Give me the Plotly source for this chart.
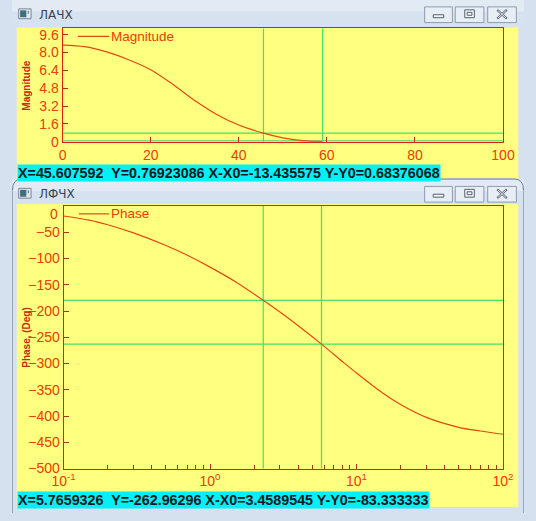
import plotly.graph_objects as go

W, H = 536, 521

# ---------------- data ----------------
MAG_NAME = "Magnitude"
MAG_X = [0, 5, 10, 15, 20, 25, 30, 35, 40, 45.6, 50, 55, 59]
MAG_Y = [8.66, 8.52, 8.05, 7.35, 6.45, 5.15, 3.7, 2.45, 1.5, 0.77, 0.35, 0.08, 0.03]
MAG_XTICKS = [0, 20, 40, 60, 80, 100]
MAG_YTICKS = [0, 1.6, 3.2, 4.8, 6.4, 8.0, 9.6]
MAG_YTICKTEXT = ["0", "1.6", "3.2", "4.8", "6.4", "8.0", "9.6"]
MAG_CURSOR_X, MAG_CURSOR_Y = 45.607592, 0.76923086
MAG_CURSOR_DX, MAG_CURSOR_DY = -13.435575, 0.68376068

PH_NAME = "Phase"
PH_F = [0.1, 0.15, 0.2, 0.3, 0.5, 0.7, 1.0, 1.5, 2.307, 3, 4, 5.766, 8, 10, 15, 20, 30, 50, 70, 100]
PH_DEG = [-19, -26.9, -35.7, -51.2, -75.2, -93.9, -116.4, -144.6, -179.6, -202, -228, -263,
          -296, -318, -355.6, -378, -402.6, -421.5, -428.5, -434.7]
PH_XTICKS = [0.1, 1, 10, 100]
PH_XTICKTEXT = ["10<sup>-1</sup>", "10<sup>0</sup>", "10<sup>1</sup>", "10<sup>2</sup>"]
PH_XMINOR = [m * d for d in (0.1, 1, 10) for m in range(2, 10)]
PH_YTICKS = [-50, -100, -150, -200, -250, -300, -350, -400, -450, -500]
PH_YTOP_LABEL = "0"
PH_CURSOR_X, PH_CURSOR_Y = 5.7659326, -262.96296
PH_CURSOR_DX, PH_CURSOR_DY = 3.4589545, -83.333333

WIN1_TITLE = "ЛАЧХ"
WIN2_TITLE = "ЛФЧХ"
MAG_YTITLE = "Magnitude"
PH_YTITLE = "Phase, (Deg)"

# ---------------- style ----------------
YELLOW = "#FFFF80"
CYAN = "#00F0F8"
CHROME = "#D5E1EF"
CURVE = "#E04A10"
AXIS = "#E0200A"
TICKTXT = "#E84000"
GREEN = "#48E060"
FONT = "Liberation Sans, Arial, sans-serif"


def px(x):
    return x / W


def py(y):
    return 1 - y / H


shapes = []
annotations = []


def rect(x0, y0, x1, y1, fill, line=None, lw=0, layer="below"):
    shapes.append(dict(type="rect", xref="paper", yref="paper",
                       x0=px(x0), x1=px(x1), y0=py(y1), y1=py(y0),
                       fillcolor=fill, line=dict(color=line or fill, width=lw),
                       layer=layer))


def seg(x0, y0, x1, y1, color, lw=1, layer="above"):
    shapes.append(dict(type="line", xref="paper", yref="paper",
                       x0=px(x0), x1=px(x1), y0=py(y0), y1=py(y1),
                       line=dict(color=color, width=lw), layer=layer))


def window(top, yellow_top, yellow_bottom, title):
    rect(0, top, W, top + 12, "#E2EAF4")
    rect(0, top + 12, W, yellow_top, "#D6E2EF")
    rect(5, yellow_top, 530, yellow_bottom, YELLOW)
    # icon
    rect(7, top + 9, 20, top + 19, "#E4E8EC", "#7A8896", 1, layer="above")
    rect(8.5, top + 10.5, 15, top + 17.5, "#3F6E7E", layer="above")
    seg(17, top + 11, 17, top + 14, "#3F6E7E", 1)
    annotations.append(dict(x=px(26), y=py(top + 15), xref="paper", yref="paper",
                            text=title, showarrow=False, xanchor="left", yanchor="middle",
                            font=dict(family="DejaVu Sans, sans-serif", size=12, color="#3A4450")))
    # buttons
    for bx0, bx1 in [(432, 461), (464, 494), (498, 528)]:
        rect(bx0, top + 7, bx1, top + 23, "#E8EEF6", "#8C9BAC", 1, layer="above")
    rect(441, top + 15, 452, top + 18, "#F4F6F9", "#56606C", 1, layer="above")
    rect(474, top + 10, 484, top + 18, "#F4F6F9", "#56606C", 1, layer="above")
    rect(476.5, top + 12.5, 481.5, top + 15.5, "#F4F6F9", "#56606C", 1, layer="above")
    seg(508, top + 10, 518, top + 19, "#6A7480", 2.2)
    seg(518, top + 10, 508, top + 19, "#6A7480", 2.2)
    seg(508.8, top + 10.8, 517.2, top + 18.2, "#F0F3F7", 0.8)
    seg(517.2, top + 10.8, 508.8, top + 18.2, "#F0F3F7", 0.8)


window(-2, 26, 180, WIN1_TITLE)
rect(0, 180, W, H, CHROME)
window(181, 206, 515, WIN2_TITLE)
shapes.append(dict(type="path", xref="paper", yref="paper", layer="above",
                   path=(f"M {px(0.5)},{py(192)} Q {px(0.5)},{py(180.5)} {px(10)},{py(180.5)} "
                         f"L {px(526)},{py(180.5)} Q {px(535.5)},{py(180.5)} {px(535.5)},{py(192)}"),
                   line=dict(color="#6E7C8C", width=1)))
seg(535.5, 192, 535.5, 521, "#9AA8B8", 1)
seg(0.5, 192, 0.5, 521, "#9AA8B8", 1)

# ---------------- traces ----------------
fig = go.Figure()
fig.add_trace(go.Scatter(x=MAG_X, y=MAG_Y, mode="lines", name=MAG_NAME,
                         line=dict(color=CURVE, width=1.2, shape="spline", smoothing=0.8),
                         xaxis="x", yaxis="y", showlegend=False))
fig.add_trace(go.Scatter(x=PH_F, y=PH_DEG, mode="lines", name=PH_NAME,
                         line=dict(color=CURVE, width=1.2, shape="spline", smoothing=0.8),
                         xaxis="x2", yaxis="y2", showlegend=False))

# cursor lines
mag_x0 = MAG_CURSOR_X - MAG_CURSOR_DX
mag_y0 = MAG_CURSOR_Y - MAG_CURSOR_DY
ph_x0 = PH_CURSOR_X - PH_CURSOR_DX
ph_y0 = PH_CURSOR_Y - PH_CURSOR_DY
for xv in (MAG_CURSOR_X, mag_x0):
    shapes.append(dict(type="line", xref="x", yref="y domain", x0=xv, x1=xv, y0=0, y1=1,
                       line=dict(color=GREEN, width=1.2), layer="below"))
for yv in (MAG_CURSOR_Y, mag_y0):
    shapes.append(dict(type="line", xref="x domain", yref="y", x0=0, x1=1, y0=yv, y1=yv,
                       line=dict(color=GREEN, width=1.2), layer="below"))
for xv in (PH_CURSOR_X, ph_x0):
    shapes.append(dict(type="line", xref="x2", yref="y2 domain", x0=xv, x1=xv, y0=0, y1=1,
                       line=dict(color=GREEN, width=1.2), layer="below"))
for yv in (PH_CURSOR_Y, ph_y0):
    shapes.append(dict(type="line", xref="x2 domain", yref="y2", x0=0, x1=1, y0=yv, y1=yv,
                       line=dict(color=GREEN, width=1.2), layer="below"))

# legends (manual, in-plot)
seg(69, 35, 101.7, 35, CURVE, 1.2)
annotations.append(dict(x=px(102), y=py(35), xref="paper", yref="paper", text=MAG_NAME,
                        showarrow=False, xanchor="left", yanchor="middle",
                        font=dict(family=FONT, size=13.5, color=TICKTXT)))
seg(70, 216, 101.7, 216, CURVE, 1.2)
annotations.append(dict(x=px(102), y=py(216), xref="paper", yref="paper", text=PH_NAME,
                        showarrow=False, xanchor="left", yanchor="middle",
                        font=dict(family=FONT, size=13.5, color=TICKTXT)))

# the top "0" label of the phase axis (drawn shifted down, as in the original)
annotations.append(dict(x=px(50), y=py(216), xref="paper", yref="paper", text=PH_YTOP_LABEL,
                        showarrow=False, xanchor="right", yanchor="middle",
                        font=dict(family=FONT, size=14, color=TICKTXT)))

# axis titles
annotations.append(dict(x=px(15), y=py(85), xref="paper", yref="paper", text=f"<b>{MAG_YTITLE}</b>",
                        showarrow=False, textangle=-90, xanchor="center", yanchor="middle",
                        font=dict(family=FONT, size=10, color="#C03010")))
annotations.append(dict(x=px(15), y=py(342), xref="paper", yref="paper", text=f"<b>{PH_YTITLE}</b>",
                        showarrow=False, textangle=-90, xanchor="center", yanchor="middle",
                        font=dict(family=FONT, size=10, color="#C03010")))

# status lines
status1 = f"X={MAG_CURSOR_X}  Y={MAG_CURSOR_Y} X-X0={MAG_CURSOR_DX} Y-Y0={MAG_CURSOR_DY}"
status2 = f"X={PH_CURSOR_X}  Y={PH_CURSOR_Y} X-X0={PH_CURSOR_DX} Y-Y0={PH_CURSOR_DY}"
annotations.append(dict(x=px(5), y=py(165.5), xref="paper", yref="paper", text=f"<b>{status1}</b>",
                        showarrow=False, xanchor="left", yanchor="top", bgcolor=CYAN, borderpad=0,
                        font=dict(family=FONT, size=14.3, color="#101820")))
annotations.append(dict(x=px(5), y=py(499), xref="paper", yref="paper", text=f"<b>{status2}</b>",
                        showarrow=False, xanchor="left", yanchor="top", bgcolor=CYAN, borderpad=0,
                        font=dict(family=FONT, size=14.3, color="#101820")))

axis_common = dict(showgrid=False, zeroline=False, showline=True, linecolor=AXIS, linewidth=1,
                   mirror=True, ticks="inside", ticklen=5, tickcolor="#B03010", tickwidth=1,
                   tickfont=dict(family=FONT, size=14, color=TICKTXT))

fig.update_layout(
    width=W, height=H, autosize=False,
    margin=dict(l=0, r=0, t=0, b=0),
    paper_bgcolor=CHROME, plot_bgcolor="rgba(0,0,0,0)",
    showlegend=False,
    xaxis=dict(domain=[px(53), px(514)], range=[0, 100], anchor="y",
               tickmode="array", tickvals=MAG_XTICKS, **axis_common),
    yaxis=dict(domain=[py(142.5), py(27)], range=[0, 10.15], anchor="x",
               tickmode="array", tickvals=MAG_YTICKS, ticktext=MAG_YTICKTEXT, **axis_common),
    xaxis2=dict(domain=[px(54), px(514)], type="log", range=[-1, 2], anchor="y2",
                tickmode="array", tickvals=PH_XTICKS, ticktext=PH_XTICKTEXT,
                minor=dict(tickmode="array", tickvals=PH_XMINOR, ticks="inside", ticklen=4,
                           tickcolor="#B03010", showgrid=False),
                **axis_common),
    yaxis2=dict(domain=[py(475.7), py(208)], range=[-500, 0], anchor="x2",
                tickmode="array", tickvals=PH_YTICKS, **axis_common),
    shapes=shapes,
    annotations=annotations,
)

fig.write_html("out.html", config={"displayModeBar": False},
               post_script="document.body.style.margin='0';document.body.style.padding='0';")
